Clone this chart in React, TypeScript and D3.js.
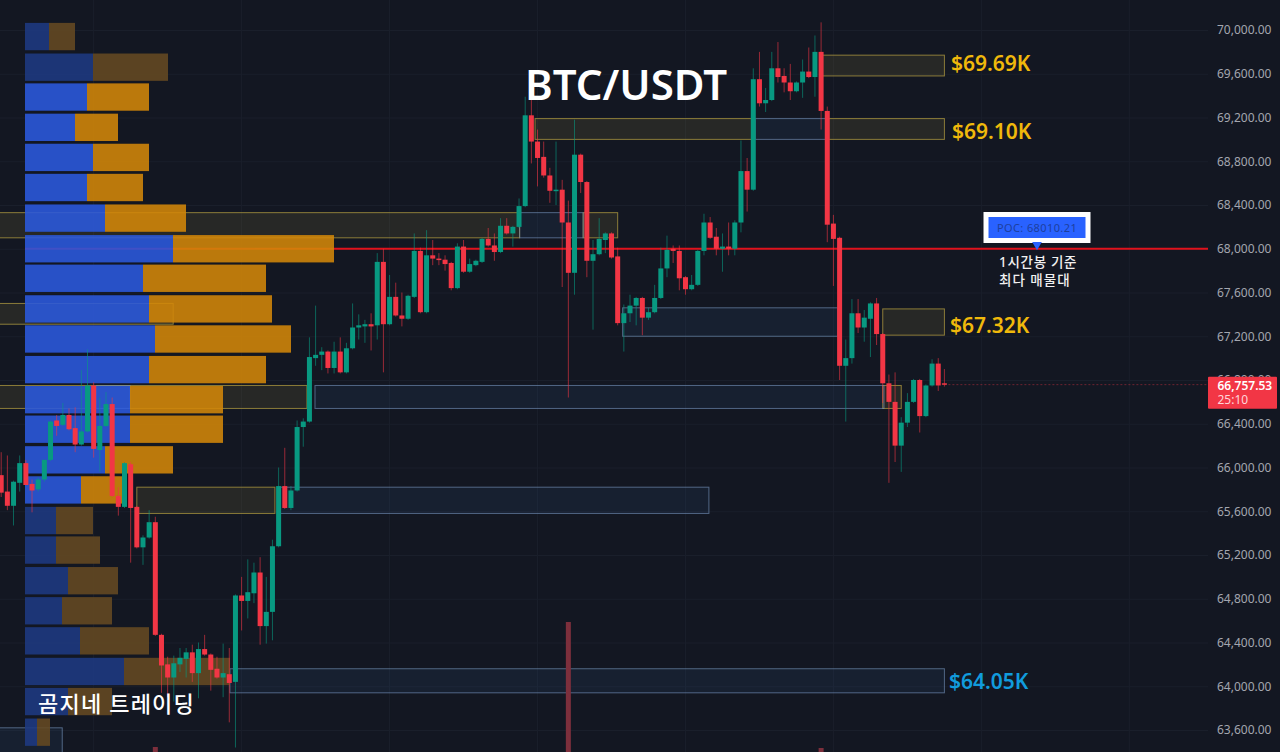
// App.tsx
// BTC/USDT 1h candles with volume profile, supply/demand boxes and POC line
import { useEffect, useRef } from "react"
import * as d3 from "d3"

const WIDTH = 1280
const HEIGHT = 752

const opens = [
  65930, 65780, 65650, 65860, 66040, 65850, 65800, 65890, 66070, 66430,
  66390, 66480, 66360, 66210, 66330, 66750, 66160, 66380, 66580, 65740,
  65640, 66030, 65640, 65270, 65360, 65500, 64470, 64200, 64080, 64200,
  64250, 64310, 64120, 64340, 64290, 64160, 64080, 64110, 64040, 64830,
  64780, 64850, 65040, 64550, 64680, 65280, 65830, 65630, 65790, 66370,
  66420, 67000, 67030, 67060, 66910, 67060, 66870, 67090, 67280, 67290,
  67310, 67300, 67880, 67310, 67560, 67390, 67360, 67560, 67980, 67420,
  67940, 67910, 67900, 67870, 67640, 68020, 67790, 67850, 67880, 68090,
  68030, 67970, 68210, 68140, 68200, 68390, 69220, 68980, 68840, 68670,
  68530, 68540, 68240, 67780, 68860, 68610, 67890, 67950, 68080, 68140,
  67930, 67320, 67410, 67480, 67550, 67370, 67420, 67550, 67820, 68000,
  67980, 67740, 67630, 67670, 67980, 68240, 68110, 68000, 68020, 68000,
  68240, 68710, 68540, 69550, 69330, 69360, 69650, 69580, 69520, 69440,
  69520, 69620, 69570, 69800, 69260, 68230, 68100, 66930, 67000, 67410,
  67280, 67360, 67500, 67220, 66770, 66600, 66200, 66410, 66600, 66800,
  66470, 66750, 66950, 66770,
]
const closes = [
  65770, 65650, 65870, 66040, 65840, 65790, 65890, 66070, 66420, 66380,
  66480, 66350, 66210, 66330, 66750, 66170, 66380, 66580, 65740, 65640,
  66040, 65630, 65270, 65360, 65500, 64470, 64190, 64080, 64210, 64260,
  64310, 64120, 64340, 64290, 64150, 64080, 64120, 64030, 64830, 64780,
  64860, 65040, 64550, 64680, 65280, 65830, 65630, 65790, 66370, 66420,
  67010, 67030, 67060, 66910, 67060, 66870, 67090, 67280, 67300, 67310,
  67290, 67880, 67310, 67560, 67390, 67360, 67570, 67980, 67420, 67940,
  67910, 67900, 67860, 67640, 68020, 67790, 67860, 67890, 68090, 68030,
  67970, 68210, 68140, 68200, 68390, 69220, 68980, 68830, 68670, 68530,
  68540, 68240, 67780, 68860, 68610, 67890, 67950, 68090, 68140, 67920,
  67320, 67410, 67480, 67550, 67370, 67420, 67550, 67820, 67990, 67980,
  67730, 67630, 67670, 67980, 68240, 68100, 68000, 68020, 68000, 68240,
  68710, 68540, 69550, 69330, 69360, 69650, 69570, 69520, 69440, 69520,
  69620, 69570, 69800, 69260, 68220, 68090, 66930, 67000, 67410, 67280,
  67370, 67500, 67220, 66770, 66600, 66200, 66410, 66600, 66800, 66470,
  66750, 66950, 66750, 66757.53,
]
const highs = [
  66140, 66110, 65880, 66110, 66070, 65890, 65910, 66070, 66430, 66480,
  66590, 66540, 66550, 66890, 67080, 66780, 66640, 66690, 66640, 65820,
  66050, 66050, 65650, 65380, 65610, 65550, 64480, 64270, 64280, 64350,
  64350, 64380, 64400, 64470, 64300, 64270, 64390, 64350, 64840, 65000,
  65160, 65130, 65180, 65000, 65340, 66000, 66180, 65830, 66430, 66450,
  67190, 67480, 67100, 67070, 67150, 67190, 67140, 67500, 67400, 67350,
  67410, 67960, 68000, 67760, 67690, 67600, 67580, 68140, 68010, 68170,
  68080, 67960, 67940, 67880, 68050, 68080, 67910, 67900, 68100, 68190,
  68140, 68280, 68280, 68210, 68460, 69390, 69360, 69090, 68980, 68740,
  68980, 68630, 68440, 69180, 68870, 68620, 68080, 68280, 68150, 68150,
  68010, 67490, 67580, 67560, 67560, 67460, 67670, 68010, 68120, 68030,
  68030, 67750, 67760, 67990, 68320, 68290, 68190, 68140, 68240, 68260,
  68990, 68830, 69650, 69800, 69470, 69800, 69890, 69650, 69690, 69530,
  69730, 69840, 69950, 70070, 69300, 68310, 68110, 67170, 67540, 67540,
  67440, 67510, 67550, 67230, 66850, 66870, 66460, 66680, 66810, 66810,
  66760, 66990, 67000, 66900,
]
const lows = [
  65730, 65610, 65470, 65780, 65840, 65590, 65780, 65870, 66060, 66290,
  66380, 66340, 66140, 66200, 66320, 66090, 65960, 66370, 65730, 65560,
  65630, 65130, 65260, 65110, 65350, 64460, 63940, 63900, 63860, 64130,
  64080, 64040, 63890, 64280, 63960, 64070, 63900, 63670, 63440, 64510,
  64620, 64760, 64380, 64390, 64420, 65270, 65620, 65610, 65780, 66190,
  66410, 66930, 66890, 66860, 66860, 66860, 66860, 67080, 67170, 67140,
  67070, 67170, 66870, 67300, 67380, 67290, 67350, 67550, 67410, 67410,
  67850, 67850, 67800, 67620, 67630, 67780, 67780, 67840, 67870, 68020,
  67890, 67960, 68130, 68020, 68190, 68380, 68780, 68570, 68650, 68420,
  68400, 67650, 66640, 67580, 68510, 67740, 67260, 67940, 67960, 67910,
  67300, 67060, 67330, 67300, 67210, 67350, 67410, 67540, 67740, 67870,
  67620, 67580, 67620, 67660, 67940, 68090, 67940, 67790, 67940, 67940,
  68150, 68340, 68530, 69300, 69250, 69350, 69520, 69430, 69360, 69430,
  69380, 69560, 69390, 69090, 68060, 67660, 66800, 66420, 66950, 67230,
  67150, 67010, 67120, 66590, 65860, 66050, 65960, 66370, 66590, 66320,
  66460, 66740, 66700, 66740,
]

// volume profile, one row per price bin
const profilePrices = [
  69940, 69660, 69387, 69110, 68835, 68560, 68280, 68000, 67730, 67450, 67175, 66895,
  66620, 66350, 66070, 65795, 65515, 65245, 64965, 64690, 64415, 64135, 63860, 63580,
]
const profileUp = [24, 68, 62, 50, 68, 62, 80, 148, 118, 124, 130, 124, 105, 105, 80, 56, 31, 31, 43, 37, 55, 99, 43, 12]
const profileDown = [26, 75, 62, 43, 56, 56, 81, 161, 123, 123, 136, 117, 93, 93, 68, 43, 37, 44, 50, 50, 69, 106, 44, 13]
const valueAreaHigh = 69450
const valueAreaLow = 65650

// boxes: [first candle, last candle, top price, bottom price]
const yellowBoxes = [
  [133.1, 153, 69770, 69580],
  [86.6, 122, 69190, 69000],
  [133.8, 153, 69190, 69000],
  [-1, 84.1, 68330, 68100],
  [94.4, 100, 68330, 68100],
  [-1, 27.9, 67500, 67310],
  [143, 153, 67450, 67210],
  [-1, 49.6, 66750, 66540],
  [143, 146, 66750, 66540],
  [22, 44.4, 65820, 65580],
]
const blueBoxes = [
  [122.3, 133.8, 69190, 69000],
  [84.1, 94.4, 68330, 68100],
  [100.8, 135.7, 67460, 67200],
  [15.4, 20.9, 66750, 66540],
  [50.9, 143.2, 66750, 66540],
  [45.2, 114.8, 65820, 65580],
  [37.1, 153, 64160, 63940],
  [-1, 9.9, 63620, 63300],
]

const priceTicks = d3.range(70000, 63599, -400)
const timeGridIndex = [15, 39, 63, 87, 111, 135, 159, 183]

const volumeIndex = [25, 92, 133]
const volumeValues = [5, 130, 4]

const priceLevels = [
  { label: "$69.69K", price: 69690, x: 951 },
  { label: "$69.10K", price: 69070, x: 952 },
  { label: "$67.32K", price: 67300, x: 950 },
]
const pocPrice = 68000
const pocLabel = "POC: 68010.21"
const lastPrice = 66757.53
const countdown = "25:10"

const BG = "#131722"
const GREEN = "#089981"
const RED = "#f23645"
const FONT = '"Noto Sans", "Noto Sans CJK KR", sans-serif'

export default function App() {
  const svgRef = useRef<SVGSVGElement>(null)

  useEffect(() => {
    document.body.style.margin = "0"
    document.body.style.background = BG
    if (!svgRef.current) return

    const svg = d3.select(svgRef.current)
    svg.selectAll("*").remove()

    const plotRight = 1208
    const y = d3.scaleLinear().domain([70000, 63600]).range([30, 730])
    const x = d3.scaleLinear().domain([0, 153]).range([1.2, 944.4])
    const vol = d3.scaleLinear().domain([0, 309]).range([25, 334])
    const volBar = d3.scaleLinear().domain([0, 130]).range([752, 622])
    const binH = y(0) - y(250)

    svg.append("rect").attr("width", WIDTH).attr("height", HEIGHT).attr("fill", BG)

    // Grid
    const grid = svg.append("g").attr("stroke", "#1a1f2b").attr("stroke-width", 1)
    grid.selectAll("line.h")
      .data(priceTicks)
      .enter().append("line")
      .attr("x1", 0).attr("x2", plotRight)
      .attr("y1", d => y(d) + 0.5).attr("y2", d => y(d) + 0.5)
    grid.selectAll("line.v")
      .data(timeGridIndex)
      .enter().append("line")
      .attr("x1", d => x(d)).attr("x2", d => x(d))
      .attr("y1", 0).attr("y2", HEIGHT)

    // Boxes
    const drawBoxes = (boxes: number[][], fill: string, stroke: string) => {
      svg.append("g").selectAll("rect")
        .data(boxes)
        .enter().append("rect")
        .attr("x", d => x(d[0]))
        .attr("y", d => y(d[2]))
        .attr("width", d => x(d[1]) - x(d[0]))
        .attr("height", d => y(d[3]) - y(d[2]))
        .attr("fill", fill)
        .attr("stroke", stroke)
        .attr("stroke-width", 1)
    }
    drawBoxes(yellowBoxes, "rgba(135,120,60,0.18)", "rgba(168,148,62,0.8)")
    drawBoxes(blueBoxes, "rgba(60,100,160,0.12)", "rgba(120,150,190,0.62)")

    // POC line and last price line
    svg.append("line")
      .attr("x1", vol(0)).attr("x2", plotRight)
      .attr("y1", y(pocPrice)).attr("y2", y(pocPrice))
      .attr("stroke", "#e0121c").attr("stroke-width", 2)
    svg.append("line")
      .attr("x1", x(153)).attr("x2", plotRight)
      .attr("y1", y(lastPrice)).attr("y2", y(lastPrice))
      .attr("stroke", "rgba(242,54,69,0.4)").attr("stroke-width", 1)
      .attr("stroke-dasharray", "2,2")

    // Volume profile, slightly see-through so the lines under it tint the bars
    const profile = svg.append("g").attr("opacity", 0.88)
    profilePrices.forEach((p, i) => {
      const inArea = p <= valueAreaHigh && p >= valueAreaLow
      const top = y(p) - binH / 2
      profile.append("rect")
        .attr("x", vol(0)).attr("y", top)
        .attr("width", vol(profileUp[i]) - vol(0)).attr("height", binH)
        .attr("fill", inArea ? "#2b59de" : "#1e3a82")
      profile.append("rect")
        .attr("x", vol(profileUp[i])).attr("y", top)
        .attr("width", vol(profileDown[i]) - vol(0)).attr("height", binH)
        .attr("fill", inArea ? "#d38709" : "#654a22")
    })

    // Volume bars
    svg.append("g").selectAll("rect")
      .data(volumeIndex)
      .enter().append("rect")
      .attr("x", d => x(d) - 2.5)
      .attr("width", 5)
      .attr("y", (_, i) => volBar(volumeValues[i]))
      .attr("height", (_, i) => 752 - volBar(volumeValues[i]))
      .attr("fill", "#7d2f3c")

    // Candles
    const candles = svg.append("g")
    opens.forEach((open, i) => {
      const close = closes[i]
      const up = close >= open
      const cx = x(i)
      candles.append("line")
        .attr("x1", cx).attr("x2", cx)
        .attr("y1", y(highs[i])).attr("y2", y(lows[i]))
        .attr("stroke", up ? GREEN : RED)
        .attr("stroke-opacity", 0.6)
        .attr("stroke-width", 1)
      candles.append("rect")
        .attr("x", cx - 2.5)
        .attr("width", 5)
        .attr("y", y(Math.max(open, close)))
        .attr("height", Math.max(1.5, Math.abs(y(open) - y(close))))
        .attr("fill", up ? GREEN : RED)
    })

    // Price axis
    const axis = svg.append("g")
      .attr("transform", `translate(${plotRight},0)`)
      .call(d3.axisRight(y)
        .tickValues(priceTicks)
        .tickSize(0)
        .tickPadding(9)
        .tickFormat(d => d3.format(",.2f")(d as number)))
    axis.select(".domain").remove()
    axis.selectAll("text")
      .attr("fill", "#a3a6af")
      .attr("font-size", "12px")
      .attr("font-family", FONT)

    // Last price tag
    const tagY = y(lastPrice)
    svg.append("rect")
      .attr("x", plotRight).attr("y", tagY - 8)
      .attr("width", 69).attr("height", 32)
      .attr("rx", 1)
      .attr("fill", RED)
    svg.append("text")
      .attr("x", plotRight + 9.5).attr("y", tagY + 5)
      .attr("fill", "#fff")
      .attr("font-size", "12px").attr("font-weight", 600)
      .attr("font-family", FONT)
      .text(d3.format(",.2f")(lastPrice))
    svg.append("text")
      .attr("x", plotRight + 9.5).attr("y", tagY + 19.5)
      .attr("fill", "#ffd5d9")
      .attr("font-size", "12px")
      .attr("font-family", FONT)
      .text(countdown)

    // Price level labels
    svg.selectAll("text.level")
      .data(priceLevels)
      .enter().append("text")
      .attr("x", d => d.x)
      .attr("y", d => y(d.price))
      .attr("dy", "0.36em")
      .attr("fill", "#f0b90b")
      .attr("font-size", "21px").attr("font-weight", 600)
      .attr("font-family", FONT)
      .text(d => d.label)
    svg.append("text")
      .attr("x", 949).attr("y", y(64045))
      .attr("dy", "0.36em")
      .attr("fill", "#119bdc")
      .attr("font-size", "21px").attr("font-weight", 600)
      .attr("font-family", FONT)
      .text("$64.05K")

    // Titles
    svg.append("text")
      .attr("x", 525).attr("y", 100)
      .attr("fill", "#fff")
      .attr("font-size", "42px").attr("font-weight", 600)
      .attr("font-family", FONT)
      .text("BTC/USDT")
    svg.append("text")
      .attr("x", 38).attr("y", 712)
      .attr("fill", "#fff")
      .attr("font-size", "22px").attr("font-weight", 500)
      .attr("letter-spacing", "1.2px")
      .attr("font-family", FONT)
      .text("곰지네 트레이딩")

    // POC callout
    svg.append("rect")
      .attr("x", 986).attr("y", 214.5)
      .attr("width", 102).attr("height", 26)
      .attr("fill", "#2962ff")
      .attr("stroke", "#fff").attr("stroke-width", 5)
    svg.append("path")
      .attr("d", d3.symbol(d3.symbolTriangle, 40)() as string)
      .attr("transform", `translate(1037,${y(pocPrice) - 4}) rotate(180)`)
      .attr("fill", "#2962ff")
    svg.append("text")
      .attr("x", 1037).attr("y", 232)
      .attr("text-anchor", "middle")
      .attr("fill", "#1d3f9e")
      .attr("font-size", "11px").attr("letter-spacing", "0.4px")
      .attr("font-family", FONT)
      .text(pocLabel)
    svg.append("text")
      .attr("x", 999).attr("y", 266.5)
      .attr("fill", "#f0f0f0")
      .attr("font-size", "13.5px").attr("font-weight", 500)
      .attr("letter-spacing", "0.7px")
      .attr("font-family", FONT)
      .text("1시간봉 기준")
    svg.append("text")
      .attr("x", 999).attr("y", 285)
      .attr("fill", "#f0f0f0")
      .attr("font-size", "13.5px").attr("font-weight", 500)
      .attr("letter-spacing", "1px")
      .attr("font-family", FONT)
      .text("최다 매물대")
  }, [])

  return (
    <div style={{ position: "absolute", left: 0, top: 0, width: WIDTH, height: HEIGHT, overflow: "hidden" }}>
      <svg ref={svgRef} width={WIDTH} height={HEIGHT} style={{ display: "block" }} />
    </div>
  )
}
